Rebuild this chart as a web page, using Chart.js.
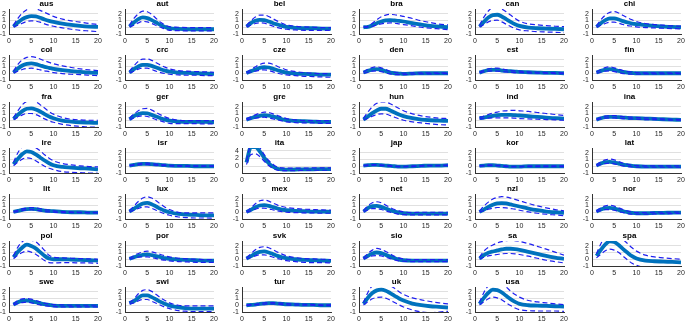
<!DOCTYPE html>
<html>
<head>
<meta charset="utf-8">
<title>Impulse responses by country</title>
<script src="https://cdn.jsdelivr.net/npm/chart.js@4.4.1/dist/chart.umd.min.js"></script>
<style>
  body { margin: 0; background: #fff; }
  #wrap { position: relative; width: 685px; height: 322px; overflow: hidden; }
  #wrap canvas { position: absolute; }
</style>
</head>
<body>
<div id="wrap"></div>
<script>
// panel names, left to right, top to bottom
var countries = ['aus','aut','bel','bra','can','chi',
                 'col','crc','cze','den','est','fin',
                 'fra','ger','gre','hun','ind','ina',
                 'ire','isr','ita','jap','kor','lat',
                 'lit','lux','mex','net','nzl','nor',
                 'pol','por','svk','sio','sa','spa',
                 'swe','swi','tur','uk','usa'];

var horizon = [1,2,3,4,5,6,7,8,9,10,12,14,16,18,20];
var xTicks = [0,5,10,15,20];
var yTicks = [-1,0,1,2];
var yTicksIta = [0,2,4];

// median response, one row per country
var medianResp = [
  [0.1,0.7,1.2,1.5,1.65,1.6,1.4,1.15,0.95,0.8,0.55,0.35,0.2,0.1,0.05],      // aus
  [0.1,0.7,1.2,1.45,1.35,1.05,0.7,0.35,0.05,-0.15,-0.25,-0.3,-0.3,-0.3,-0.3], // aut
  [0.1,0.6,0.95,1.1,1.05,0.85,0.6,0.4,0.2,0.05,-0.1,-0.15,-0.15,-0.2,-0.2],   // bel
  [0,0.05,0.3,0.6,0.85,1,1.05,1,0.95,0.85,0.6,0.4,0.2,0.1,0],                 // bra
  [0.1,0.8,1.45,1.8,1.85,1.6,1.2,0.8,0.45,0.2,-0.05,-0.15,-0.2,-0.25,-0.3],   // can
  [0.05,0.6,1.05,1.3,1.3,1.15,0.9,0.7,0.55,0.45,0.3,0.2,0.1,0.05,0],          // chi
  [0.1,0.7,1.15,1.4,1.45,1.35,1.15,0.95,0.8,0.65,0.45,0.3,0.2,0.1,0.05],      // col
  [0.1,0.6,1,1.25,1.25,1.1,0.85,0.6,0.4,0.25,0.1,0.05,0,-0.05,-0.1],          // crc
  [0.05,0.3,0.55,0.8,0.9,0.85,0.65,0.45,0.25,0.1,-0.05,-0.1,-0.15,-0.2,-0.2], // cze
  [0.1,0.35,0.55,0.6,0.5,0.3,0.1,0,-0.05,-0.1,-0.05,0,0,0,0],                 // den
  [0.1,0.3,0.45,0.5,0.5,0.4,0.35,0.3,0.25,0.2,0.15,0.1,0.05,0.05,0],          // est
  [0.1,0.35,0.55,0.6,0.5,0.35,0.2,0.1,0.05,0,0,0,0,0,0],                      // fin
  [0.2,0.8,1.35,1.7,1.75,1.6,1.3,0.9,0.55,0.3,-0.05,-0.2,-0.3,-0.35,-0.4],    // fra
  [0.15,0.6,0.9,1.05,1,0.8,0.55,0.3,0.1,-0.05,-0.2,-0.25,-0.25,-0.25,-0.3],   // ger
  [0.1,0.3,0.5,0.65,0.75,0.7,0.55,0.35,0.15,0,-0.1,-0.15,-0.2,-0.25,-0.25],   // gre
  [0.1,0.55,1.05,1.45,1.7,1.7,1.45,1.15,0.85,0.6,0.3,0.1,0,-0.05,-0.1],       // hun
  [0.3,0.4,0.55,0.65,0.75,0.8,0.8,0.8,0.75,0.7,0.6,0.5,0.4,0.3,0.25],         // ind
  [0.1,0.3,0.45,0.5,0.5,0.45,0.4,0.35,0.3,0.3,0.25,0.2,0.15,0.1,0.05],        // ina
  [0.3,1.1,1.8,2.2,2.1,1.75,1.3,0.85,0.45,0.15,-0.1,-0.2,-0.3,-0.35,-0.45],   // ire
  [0.1,0.2,0.3,0.35,0.35,0.3,0.25,0.2,0.15,0.1,0.05,0.05,0,0,0],              // isr
  [1,4.9,4.9,3.8,2.2,0.8,-0.1,-0.6,-0.8,-0.85,-0.8,-0.75,-0.75,-0.7,-0.7],    // ita
  [0.1,0.15,0.2,0.2,0.15,0.1,0.05,0,-0.05,-0.05,0,0.05,0.1,0.1,0.15],         // jap
  [0.05,0.1,0.15,0.15,0.1,0.05,0,-0.05,-0.05,-0.05,0,0,0,0,0],                // kor
  [0.1,0.4,0.6,0.65,0.55,0.4,0.25,0.15,0.05,0,-0.05,-0.05,-0.05,-0.05,-0.05], // lat
  [0.05,0.2,0.35,0.45,0.5,0.45,0.35,0.25,0.2,0.15,0.05,0,0,-0.05,-0.05],      // lit
  [0.1,0.5,0.95,1.3,1.4,1.2,0.85,0.5,0.2,0,-0.25,-0.35,-0.4,-0.45,-0.45],     // lux
  [0.05,0.35,0.75,1,1.05,0.95,0.75,0.55,0.4,0.3,0.2,0.15,0.1,0.1,0.05],       // mex
  [0.1,0.6,0.9,0.95,0.8,0.55,0.3,0.1,-0.05,-0.15,-0.2,-0.2,-0.2,-0.2,-0.2],   // net
  [0.05,0.4,0.8,1.1,1.3,1.35,1.3,1.15,1,0.85,0.55,0.3,0.1,0,-0.1],            // nzl
  [0.1,0.4,0.6,0.65,0.55,0.35,0.15,0,-0.1,-0.15,-0.15,-0.1,-0.1,-0.05,-0.05], // nor
  [0.3,1.1,1.75,2.15,1.95,1.6,1.05,0.5,0.1,0,0,-0.05,-0.1,-0.15,-0.2],        // pol
  [0.05,0.3,0.5,0.65,0.7,0.6,0.45,0.3,0.15,0.05,-0.05,-0.1,-0.15,-0.2,-0.2],  // por
  [0.1,0.45,0.85,1.1,1.15,1,0.75,0.5,0.3,0.15,0,-0.1,-0.15,-0.2,-0.25],       // svk
  [0.1,0.5,0.85,1,0.9,0.65,0.4,0.15,-0.05,-0.15,-0.2,-0.2,-0.2,-0.2,-0.2],    // sio
  [0.1,0.6,0.95,1.15,1.3,1.45,1.55,1.55,1.5,1.4,1.1,0.8,0.5,0.25,0.05],       // sa
  [0.5,1.4,2.2,2.65,2.55,2.1,1.5,0.95,0.45,0.1,-0.2,-0.3,-0.35,-0.4,-0.45],   // spa
  [0.1,0.45,0.65,0.7,0.6,0.45,0.3,0.15,0.05,-0.05,-0.1,-0.1,-0.1,-0.1,-0.1],  // swe
  [0.3,0.6,1.1,1.45,1.45,1.2,0.85,0.5,0.2,-0.05,-0.3,-0.45,-0.5,-0.5,-0.5],   // swi
  [0,0.05,0.1,0.2,0.25,0.3,0.3,0.25,0.2,0.15,0.1,0.05,0.05,0,0],              // tur
  [0.2,1.1,1.8,2.2,2.3,2.15,1.8,1.4,1,0.7,0.25,0,-0.15,-0.25,-0.35],          // uk
  [0.2,1.1,1.85,2.3,2.25,1.9,1.4,0.9,0.5,0.2,0,-0.05,-0.1,-0.15,-0.2]         // usa
];

// lower dashed band
var lowerBand = [
  [0.05,0.3,0.6,0.85,0.95,0.9,0.75,0.5,0.3,0.15,-0.1,-0.3,-0.45,-0.55,-0.65],
  [0.05,0.3,0.65,0.85,0.8,0.55,0.25,0,-0.25,-0.45,-0.5,-0.55,-0.55,-0.55,-0.55],
  [0.05,0.3,0.55,0.65,0.6,0.4,0.15,-0.05,-0.2,-0.3,-0.4,-0.45,-0.45,-0.45,-0.45],
  [0,0,0.15,0.35,0.5,0.6,0.65,0.6,0.5,0.4,0.2,0,-0.15,-0.25,-0.35],
  [0.05,0.4,0.8,1,1.05,0.8,0.45,0.1,-0.2,-0.4,-0.55,-0.65,-0.7,-0.75,-0.8],
  [0,0.3,0.55,0.75,0.75,0.6,0.4,0.25,0.15,0.05,-0.05,-0.1,-0.15,-0.2,-0.25],
  [0.05,0.3,0.55,0.7,0.75,0.65,0.5,0.35,0.25,0.1,-0.05,-0.15,-0.2,-0.3,-0.35],
  [0.05,0.3,0.6,0.75,0.75,0.55,0.3,0.1,-0.05,-0.15,-0.25,-0.3,-0.3,-0.35,-0.35],
  [0,0.15,0.3,0.45,0.5,0.4,0.2,0,-0.15,-0.25,-0.35,-0.45,-0.5,-0.55,-0.6],
  [0,0.15,0.3,0.35,0.25,0.05,-0.1,-0.2,-0.2,-0.2,-0.15,-0.1,-0.1,-0.05,-0.05],
  [0.05,0.2,0.3,0.35,0.3,0.25,0.2,0.15,0.1,0.1,0.05,0,0,-0.05,-0.05],
  [0,0.15,0.3,0.35,0.25,0.1,-0.05,-0.1,-0.15,-0.15,-0.1,-0.1,-0.1,-0.05,-0.05],
  [0.1,0.4,0.8,1,1,0.85,0.55,0.2,-0.1,-0.3,-0.6,-0.8,-0.9,-1,-1],
  [0.05,0.35,0.55,0.65,0.55,0.35,0.1,-0.1,-0.3,-0.45,-0.5,-0.5,-0.5,-0.55,-0.55],
  [0.05,0.15,0.3,0.4,0.45,0.35,0.2,0.05,-0.1,-0.25,-0.35,-0.4,-0.4,-0.45,-0.45],
  [0.05,0.3,0.6,0.85,0.95,0.9,0.7,0.45,0.2,0,-0.25,-0.4,-0.55,-0.65,-0.7],
  [0.2,0.25,0.3,0.35,0.35,0.35,0.35,0.35,0.3,0.25,0.2,0.15,0.1,0.05,0],
  [0.05,0.2,0.3,0.35,0.35,0.3,0.25,0.2,0.2,0.15,0.1,0.1,0.05,0,0],
  [0.1,0.6,1.05,1.25,1.15,0.8,0.4,0,-0.3,-0.5,-0.8,-0.9,-0.95,-1,-1.05],
  [0.05,0.15,0.2,0.25,0.25,0.2,0.15,0.1,0.1,0.05,0,0,0,0,0],
  [0.5,3,3.2,2.5,1.3,0.2,-0.6,-1,-1.1,-1.1,-1.1,-1,-1,-1,-1],
  [0.05,0.1,0.15,0.15,0.1,0.05,0,-0.05,-0.1,-0.1,-0.05,0,0.05,0.05,0.1],
  [0,0.05,0.1,0.1,0.05,0,-0.05,-0.1,-0.1,-0.1,-0.05,-0.05,-0.05,-0.05,-0.05],
  [0.05,0.25,0.4,0.45,0.35,0.2,0.05,-0.05,-0.1,-0.15,-0.15,-0.15,-0.15,-0.15,-0.15],
  [0,0.1,0.25,0.35,0.4,0.3,0.2,0.1,0.05,0,-0.05,-0.05,-0.05,-0.1,-0.1],
  [0.05,0.3,0.55,0.75,0.8,0.6,0.3,0,-0.25,-0.45,-0.7,-0.8,-0.85,-0.85,-0.9],
  [0,0.2,0.45,0.6,0.6,0.5,0.35,0.2,0.1,0,-0.05,-0.1,-0.1,-0.15,-0.15],
  [0.05,0.35,0.55,0.55,0.4,0.2,0,-0.15,-0.3,-0.35,-0.4,-0.4,-0.4,-0.4,-0.4],
  [0,0.25,0.45,0.6,0.7,0.7,0.65,0.55,0.45,0.3,0.05,-0.15,-0.3,-0.4,-0.5],
  [0.05,0.25,0.4,0.4,0.3,0.1,-0.05,-0.2,-0.3,-0.3,-0.3,-0.25,-0.2,-0.2,-0.15],
  [0.1,0.6,1,1.2,1.05,0.75,0.3,-0.2,-0.5,-0.55,-0.5,-0.5,-0.55,-0.55,-0.6],
  [0,0.15,0.3,0.35,0.35,0.25,0.1,-0.05,-0.15,-0.25,-0.35,-0.4,-0.45,-0.45,-0.45],
  [0.05,0.25,0.5,0.65,0.65,0.5,0.3,0.1,-0.05,-0.2,-0.35,-0.45,-0.5,-0.5,-0.55],
  [0.05,0.3,0.5,0.55,0.5,0.3,0.1,-0.1,-0.25,-0.3,-0.35,-0.35,-0.35,-0.35,-0.35],
  [0,0.3,0.5,0.6,0.7,0.8,0.85,0.85,0.8,0.7,0.45,0.15,-0.15,-0.35,-0.55],
  [0.2,0.75,1.25,1.5,1.35,1,0.45,-0.1,-0.6,-0.9,-1.2,-1.2,-1.2,-1.2,-1.2],
  [0.05,0.25,0.4,0.45,0.35,0.2,0.05,-0.05,-0.15,-0.2,-0.25,-0.25,-0.25,-0.25,-0.25],
  [0.2,0.35,0.65,0.85,0.85,0.6,0.3,0,-0.3,-0.5,-0.8,-0.9,-0.95,-0.95,-0.95],
  [-0.05,0,0.05,0.1,0.15,0.2,0.2,0.15,0.1,0.05,0,0,0,-0.05,-0.05],
  [0.05,0.5,0.95,1.15,1.2,1.05,0.75,0.4,0.05,-0.25,-0.7,-1,-1.1,-1,-0.9],
  [0.05,0.5,0.95,1.2,1.1,0.8,0.35,-0.05,-0.4,-0.65,-0.8,-0.85,-0.85,-0.85,-0.9]
];

// upper dashed band
var upperBand = [
  [0.3,1.3,2.1,2.6,2.8,2.75,2.5,2.2,1.9,1.6,1.2,0.95,0.75,0.55,0.4],
  [0.3,1.3,2,2.4,2.3,1.9,1.3,0.75,0.35,0.1,0,-0.05,-0.05,-0.05,-0.05],
  [0.25,0.95,1.5,1.8,1.8,1.6,1.25,0.9,0.6,0.35,0.15,0.05,0,-0.05,-0.05],
  [0.05,0.15,0.6,1.1,1.55,1.8,1.9,1.85,1.75,1.6,1.3,0.95,0.7,0.45,0.35],
  [0.3,1.5,2.4,2.9,2.9,2.7,2.3,1.8,1.3,0.9,0.5,0.35,0.25,0.15,0.1],
  [0.2,1.1,1.8,2.2,2.3,2.1,1.75,1.4,1.1,0.85,0.55,0.4,0.3,0.2,0.15],
  [0.3,1.3,2,2.35,2.45,2.35,2.1,1.85,1.6,1.4,1.1,0.85,0.65,0.5,0.4],
  [0.3,1.1,1.75,2.1,2.1,1.9,1.55,1.2,0.9,0.65,0.4,0.3,0.25,0.2,0.15],
  [0.1,0.55,0.95,1.3,1.5,1.5,1.3,1,0.75,0.5,0.25,0.1,0,-0.05,-0.05],
  [0.2,0.6,0.85,0.95,0.8,0.55,0.3,0.15,0.05,0,0.05,0.05,0.05,0.05,0.05],
  [0.15,0.45,0.65,0.75,0.75,0.65,0.5,0.4,0.35,0.3,0.2,0.15,0.1,0.1,0.05],
  [0.2,0.55,0.85,0.95,0.8,0.6,0.4,0.25,0.15,0.1,0.05,0.05,0.05,0.05,0.05],
  [0.4,1.4,2.3,2.8,2.9,2.75,2.3,1.8,1.3,0.9,0.4,0.15,0.05,0,0],
  [0.3,0.9,1.4,1.7,1.75,1.5,1.15,0.8,0.5,0.25,0,-0.05,-0.05,-0.05,-0.05],
  [0.2,0.5,0.8,1.05,1.2,1.15,0.95,0.7,0.45,0.25,0.05,-0.05,-0.05,-0.05,-0.05],
  [0.3,1.2,2,2.5,2.75,2.7,2.45,2.1,1.75,1.4,0.95,0.65,0.45,0.3,0.25],
  [0.4,0.6,0.85,1.05,1.2,1.35,1.4,1.45,1.45,1.4,1.3,1.15,1,0.85,0.7],
  [0.15,0.45,0.6,0.7,0.7,0.6,0.55,0.5,0.45,0.4,0.35,0.3,0.2,0.15,0.1],
  [0.6,2,2.9,3.1,3,2.75,2.3,1.7,1.2,0.8,0.4,0.2,0.05,-0.05,-0.1],
  [0.15,0.25,0.35,0.45,0.45,0.4,0.3,0.25,0.2,0.15,0.1,0.05,0.05,0.05,0.05],
  [1.5,5.5,5.8,4.8,3,1.5,0.5,-0.2,-0.4,-0.45,-0.45,-0.45,-0.4,-0.4,-0.4],
  [0.15,0.2,0.25,0.25,0.2,0.15,0.1,0.05,0,0,0.05,0.1,0.15,0.15,0.2],
  [0.1,0.15,0.2,0.2,0.15,0.1,0.05,0,0,0,0.05,0.05,0.05,0.05,0.05],
  [0.2,0.65,0.95,1.05,0.95,0.7,0.45,0.3,0.15,0.1,0.05,0.05,0.05,0.05,0.05],
  [0.1,0.3,0.5,0.6,0.7,0.65,0.55,0.4,0.3,0.2,0.1,0.05,0,0,0],
  [0.25,0.9,1.6,2.1,2.3,2.1,1.7,1.2,0.75,0.4,0,-0.1,-0.1,-0.1,-0.1],
  [0.1,0.65,1.25,1.7,1.8,1.65,1.35,1.05,0.85,0.7,0.55,0.45,0.4,0.35,0.3],
  [0.25,0.95,1.4,1.55,1.4,1.05,0.7,0.4,0.2,0.05,-0.05,0,0,0,0],
  [0.2,0.9,1.5,1.95,2.2,2.3,2.25,2.1,1.9,1.7,1.3,0.95,0.65,0.4,0.2],
  [0.2,0.65,0.95,1.05,0.9,0.65,0.4,0.2,0.05,-0.05,-0.05,0,0,0,0.05],
  [0.5,1.8,2.6,3,2.8,2.6,2,1.3,0.6,0.3,0.2,0.15,0.1,0.05,0],
  [0.1,0.55,0.85,1.1,1.2,1.1,0.9,0.7,0.5,0.35,0.15,0.05,0,-0.05,-0.05],
  [0.2,0.8,1.4,1.75,1.85,1.7,1.4,1.05,0.75,0.5,0.25,0.1,0.05,0,-0.05],
  [0.2,0.85,1.35,1.6,1.45,1.15,0.8,0.45,0.2,0.05,-0.05,-0.05,-0.05,-0.05,-0.05],
  [0.3,1.2,1.75,2.1,2.4,2.6,2.75,2.8,2.75,2.65,2.3,1.9,1.5,1.05,0.6],
  [0.8,2.3,3.3,3.7,3.6,3.3,2.9,2.3,1.7,1.2,0.6,0.35,0.2,0.1,0],
  [0.2,0.7,0.95,1,0.9,0.7,0.5,0.3,0.2,0.1,0.05,0,0,0,0],
  [0.4,0.9,1.7,2.2,2.3,2.05,1.6,1.1,0.7,0.35,0,-0.1,-0.1,-0.1,-0.1],
  [0.05,0.1,0.15,0.25,0.35,0.4,0.4,0.35,0.3,0.25,0.2,0.15,0.1,0.05,0.05],
  [0.4,1.9,2.9,3.4,3.5,3.3,2.9,2.5,2,1.6,1.1,0.8,0.55,0.35,0.2],
  [0.4,1.9,2.9,3.4,3.4,3.1,2.7,2.1,1.6,1.2,0.7,0.5,0.35,0.2,0.1]
];

var FONT = "'Liberation Sans', Arial, Helvetica, sans-serif";
var MEDIAN_COLOR = '#0072BD';
var BAND_COLOR = '#1f1ff0';
var AXIS_COLOR = '#333333';
var PLOT_W = 89, PLOT_H = 25;

var wrap = document.getElementById('wrap');

function toPoints(vals) {
  return vals.map(function (v, k) { return {x: horizon[k], y: v}; });
}

function fixedTicks(list) {
  return function (scale) {
    scale.ticks = list.map(function (v) { return {value: v}; });
  };
}

countries.forEach(function (name, i) {
  var col = i % 6, row = Math.floor(i / 6);
  var plotLeft = Math.round(8.5 + 116.7 * col);
  var plotTop = Math.round(8.8 + 46.4 * row);

  var cv = document.createElement('canvas');
  cv.width = PLOT_W + 28;
  cv.height = 9 + PLOT_H + 10;
  cv.style.left = (plotLeft - 14) + 'px';
  cv.style.top = (plotTop - 9) + 'px';
  wrap.appendChild(cv);

  var isIta = name === 'ita';
  var band = {borderColor: BAND_COLOR, borderWidth: 1.2, borderDash: [5, 3], pointRadius: 0, clip: 0};

  new Chart(cv, {
    type: 'line',
    data: {
      datasets: [
        Object.assign({data: toPoints(upperBand[i])}, band),
        Object.assign({data: toPoints(lowerBand[i])}, band),
        {data: toPoints(medianResp[i]), borderColor: MEDIAN_COLOR, borderWidth: 3.8, pointRadius: 0, clip: 0}
      ]
    },
    options: {
      responsive: false,
      animation: false,
      devicePixelRatio: 1,
      events: [],
      layout: {padding: {left: 0, right: 14, top: 0, bottom: 0}},
      elements: {line: {cubicInterpolationMode: 'monotone', borderCapStyle: 'butt'}},
      plugins: {
        legend: {display: false},
        tooltip: {enabled: false},
        title: {
          display: true, text: name, color: '#000',
          font: {family: FONT, size: 8, weight: 'bold', lineHeight: 1},
          padding: {top: 0, bottom: 1}
        }
      },
      scales: {
        x: {
          type: 'linear', min: 0, max: 20,
          afterBuildTicks: fixedTicks(xTicks),
          afterFit: function (s) { s.height = 10; },
          grid: {display: false, drawTicks: false},
          border: {display: true, color: AXIS_COLOR, width: 1},
          ticks: {font: {family: FONT, size: 7}, color: '#262626', padding: 3, maxRotation: 0, autoSkip: false}
        },
        y: {
          type: 'linear',
          min: isIta ? -1.7 : -1,
          max: isIta ? 4.7 : 2.7,
          afterBuildTicks: fixedTicks(isIta ? yTicksIta : yTicks),
          afterFit: function (s) { s.width = 14; },
          grid: {color: '#e0e0e0', lineWidth: 1, drawTicks: false},
          border: {display: true, color: AXIS_COLOR, width: 1},
          ticks: {font: {family: FONT, size: 7}, color: '#262626', padding: 3, autoSkip: false}
        }
      }
    }
  });
});
</script>
</body>
</html>
